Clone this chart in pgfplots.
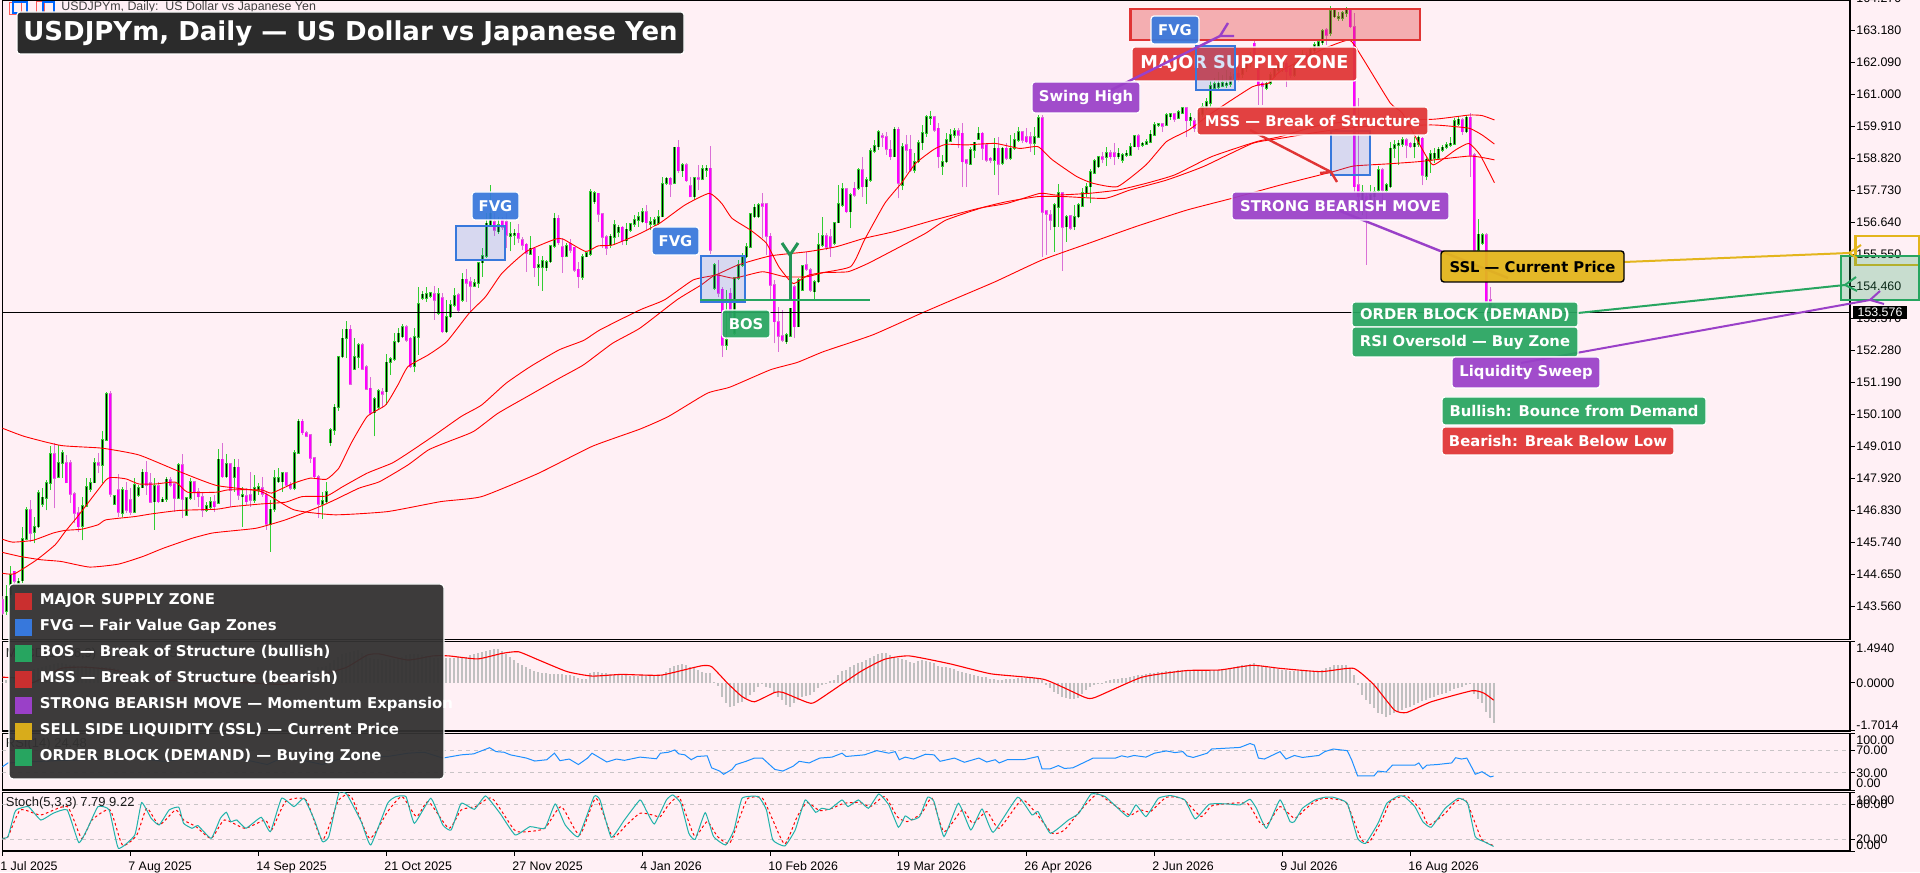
\documentclass[border=0pt]{standalone}
\usepackage{fontspec}
\usepackage{pgfplots}
\usepackage{pgfplotstable}
\pgfplotsset{compat=1.18}
\setmainfont{DejaVu Sans}
\newfontfamily\tickf{Liberation Sans}
\definecolor{bg}{HTML}{FFF0F5}
\definecolor{wickup}{HTML}{32CD32}
\definecolor{wickdn}{HTML}{DA70D6}
\definecolor{bodydn}{RGB}{255,0,255}
\definecolor{rlab}{HTML}{E03434}
\definecolor{blab}{HTML}{3778DC}
\definecolor{glab}{HTML}{27A560}
\definecolor{plab}{HTML}{9A40C8}
\definecolor{ylab}{HTML}{E3B51C}
\definecolor{dk}{HTML}{2B2B2B}
\definecolor{lgd}{HTML}{333232}
\definecolor{histg}{HTML}{C0C0C0}
\definecolor{lvl}{HTML}{C8C4C6}
\definecolor{stk}{HTML}{20B2AA}
\pgfplotstableread{
i lo hi wl wh
1 143.40 143.91 143.28 144.31
2 143.97 144.65 143.85 144.93
4 144.36 144.42 144.25 144.53
5 144.45 145.86 144.36 146.29
6 145.86 146.86 145.82 146.97
8 146.09 146.27 145.72 146.63
9 146.29 147.43 146.23 147.54
10 147.05 147.28 146.97 147.60
11 147.26 147.77 146.84 147.88
12 147.77 148.76 147.54 149.05
14 147.97 148.45 147.94 149.07
15 148.45 148.81 147.94 148.90
20 146.31 146.99 145.82 147.31
21 146.99 147.63 146.97 147.94
22 147.57 147.77 147.48 147.94
23 147.79 148.45 147.77 148.62
25 148.39 149.24 147.79 149.53
26 149.24 150.80 149.19 150.89
28 147.06 147.34 147.03 147.37
30 146.75 147.54 146.61 147.65
33 146.78 147.71 146.75 147.94
34 147.37 147.62 147.31 147.71
35 147.62 148.14 147.60 148.24
38 147.14 147.68 146.18 147.94
40 147.14 147.22 147.11 147.31
41 147.22 147.90 147.14 147.99
44 147.26 148.39 147.22 148.47
46 146.69 147.26 146.65 147.31
47 147.26 147.80 147.20 147.94
51 146.84 147.00 146.80 147.14
52 146.95 147.14 146.86 147.31
54 147.09 148.58 147.06 148.94
56 147.99 148.43 147.94 148.77
58 147.97 148.31 147.48 148.58
60 147.31 147.37 146.29 147.65
63 147.20 147.60 147.09 148.05
64 147.52 147.65 147.37 147.77
67 146.38 146.88 145.44 147.20
68 146.88 147.94 146.80 148.22
69 147.82 147.94 147.79 148.28
70 147.82 148.11 147.48 148.13
73 147.60 148.79 147.52 148.90
74 148.79 149.87 148.77 149.95
80 147.06 147.17 146.54 147.48
81 147.14 147.48 147.09 147.82
82 149.15 149.58 149.02 149.64
83 149.58 150.35 149.41 150.47
84 150.35 152.08 150.24 152.10
85 152.08 152.70 152.02 153.01
86 152.70 153.01 152.02 153.29
88 151.66 152.06 151.63 152.70
89 152.06 152.48 151.68 152.53
93 150.17 150.63 149.36 150.72
94 150.35 150.92 150.29 150.97
96 150.89 151.88 150.43 152.17
97 151.88 151.99 151.46 152.08
98 151.99 152.59 151.94 152.87
99 152.59 152.87 152.53 153.07
100 152.76 153.08 152.70 153.19
103 151.76 152.74 151.54 153.04
104 152.74 153.87 152.14 154.46
105 154.07 154.20 154.01 154.31
106 154.07 154.21 153.95 154.46
107 154.14 154.24 154.07 154.29
109 153.56 154.21 153.50 154.41
111 152.93 153.44 152.875 154.01
112 153.44 153.84 153.39 154.01
113 153.84 154.15 153.78 154.41
115 154.01 154.71 153.95 154.92
118 154.49 154.60 154.44 154.71
119 154.58 155.28 154.41 155.31
120 155.28 155.51 154.80 155.77
121 155.51 156.62 155.43 156.96
122 156.56 156.96 156.50 157.91
124 156.34 156.56 156.26 156.85
127 156.19 156.25 155.66 156.68
128 156.22 156.28 155.88 156.41
132 155.58 155.77 155.54 156.17
134 155.12 155.20 154.49 155.51
135 155.12 155.35 154.33 155.51
136 155.11 155.31 155.00 155.37
137 155.31 155.85 155.28 155.88
138 155.85 156.79 155.77 156.96
141 155.51 155.85 155.46 155.94
145 154.78 155.48 154.69 155.57
146 155.48 155.60 155.46 155.65
147 155.57 157.70 155.51 157.79
148 157.36 157.66 157.28 157.73
152 155.88 156.17 155.77 156.26
153 156.14 156.56 155.88 156.73
154 156.33 156.48 156.14 156.56
156 156.03 156.41 155.88 156.62
157 156.39 156.60 156.33 156.64
158 156.60 156.73 156.51 156.90
159 156.73 156.85 156.51 157.02
160 156.68 157.02 156.62 157.13
162 156.60 156.68 156.39 156.85
163 156.60 156.73 156.53 156.85
164 156.62 156.85 156.56 157.07
165 156.85 157.96 156.82 158.21
166 157.98 158.15 157.92 158.21
168 157.98 159.21 157.96 159.23
170 158.41 158.60 158.21 158.66
173 157.53 158.17 157.41 158.21
175 158.13 158.47 158.09 158.60
176 158.43 158.49 158.21 158.60
178 154.40 155.20 154.35 155.26
181 152.47 152.64 152.30 154.35
183 152.87 154.75 152.80 154.80
184 154.75 155.20 154.69 155.37
185 155.20 155.48 155.14 155.60
186 155.48 155.82 155.43 155.94
187 155.82 156.94 155.77 156.98
188 156.85 157.16 156.79 157.28
189 156.85 157.24 156.79 157.30
196 152.59 152.82 152.51 152.87
197 152.78 153.72 152.76 153.72
199 153.10 154.69 153.08 154.75
200 154.35 155.18 154.33 155.20
203 154.29 154.63 154.01 154.69
204 154.63 155.88 154.57 156.28
205 155.88 156.19 155.82 156.82
208 155.94 156.64 155.88 156.68
209 156.64 157.28 156.62 157.92
210 157.24 157.78 157.19 157.98
212 157.02 157.58 156.45 157.64
214 157.81 158.44 157.75 158.49
216 157.87 158.09 157.28 158.21
217 158.09 159.09 158.04 159.17
218 159.09 159.25 159.00 159.46
219 159.23 159.74 159.12 159.80
223 158.89 159.82 158.87 159.89
225 157.93 159.23 157.75 159.34
228 158.44 158.72 158.32 159.00
229 158.72 159.37 158.66 159.46
230 159.37 159.71 159.12 159.97
231 159.68 160.25 159.57 160.31
232 160.20 160.25 159.97 160.46
235 158.57 158.72 158.27 158.95
236 158.72 159.46 158.66 159.68
237 159.43 159.63 159.40 159.82
238 159.63 159.78 159.51 159.85
242 158.64 159.12 158.60 159.23
243 159.12 159.38 158.83 159.40
244 159.48 159.68 159.46 159.89
248 158.78 159.17 158.27 159.51
250 158.66 159.17 158.60 159.23
252 158.83 159.17 158.78 159.63
253 159.17 159.46 159.12 159.68
254 159.46 159.74 159.40 159.89
258 159.34 159.57 158.95 159.89
259 159.55 160.20 159.51 160.31
263 156.51 157.24 155.65 157.30
264 157.16 157.66 156.51 157.96
266 156.51 156.85 155.99 156.90
268 156.51 156.85 156.39 157.24
269 156.85 157.24 156.79 157.30
270 157.21 157.66 157.19 157.81
271 157.64 157.87 157.53 157.98
272 157.87 158.38 157.30 158.46
273 158.34 158.75 158.32 158.80
274 158.55 158.87 158.49 158.91
276 158.87 159.03 158.57 159.23
279 158.89 159.00 158.80 159.17
280 158.78 158.95 158.69 159.00
281 158.95 159.00 158.89 159.12
282 158.95 159.23 158.91 159.37
283 159.23 159.59 159.21 159.63
285 159.29 159.34 159.23 159.40
286 159.32 159.40 159.29 159.48
287 159.38 159.65 159.34 159.80
288 159.63 159.97 159.59 160.08
289 159.97 160.00 159.91 160.03
291 159.97 160.31 159.93 160.37
292 160.25 160.34 160.14 160.37
294 160.20 160.42 160.16 160.48
295 160.37 160.54 160.34 160.57
297 160.14 160.23 159.93 160.37
299 160.12 160.37 160.03 160.48
300 160.34 160.59 160.25 160.71
301 160.57 160.76 160.48 160.88
302 160.71 161.30 160.59 161.50
303 161.22 161.36 161.16 161.56
304 161.25 161.39 161.18 161.79
305 161.30 161.41 161.25 161.67
306 161.32 161.39 161.22 161.84
307 161.36 161.61 161.27 161.79
308 161.56 161.67 161.44 161.90
310 161.71 161.96 161.56 162.13
311 161.90 162.13 161.78 162.30
312 162.07 162.30 161.96 162.47
316 161.22 161.39 161.16 161.44
317 161.39 161.67 161.33 161.79
318 161.64 161.90 161.56 162.01
319 161.84 162.01 161.73 162.18
320 161.96 162.07 161.79 162.24
323 161.67 162.01 161.61 162.13
324 161.98 162.24 161.90 162.35
325 162.20 162.35 162.13 162.52
327 162.20 162.52 162.13 162.64
328 162.50 162.69 162.41 162.81
329 162.66 162.81 162.58 162.89
330 162.77 163.18 162.69 163.23
332 163.09 163.85 162.99 164.02
333 163.66 163.89 163.60 163.94
334 163.60 163.66 163.52 163.83
335 163.60 163.79 163.52 163.86
336 163.79 163.89 163.66 163.98
340 157.41 157.70 156.90 157.92
342 157.41 157.58 157.19 157.92
343 157.53 157.70 157.30 157.87
344 157.75 158.43 157.70 158.57
346 157.75 157.92 157.64 157.98
347 157.87 159.17 157.81 159.40
348 159.17 159.29 158.83 159.46
349 159.27 159.34 158.60 159.46
350 159.32 159.46 159.23 159.57
353 159.23 159.34 158.83 159.55
354 159.32 159.55 159.23 159.63
356 158.23 158.80 158.09 158.89
357 158.78 158.98 158.34 159.12
358 158.83 159.00 158.66 159.17
359 158.83 159.14 158.80 159.23
360 159.12 159.21 159.06 159.29
361 159.21 159.29 159.14 159.40
362 159.29 159.34 159.23 159.57
363 159.32 160.12 159.29 160.20
364 160.00 160.16 159.93 160.23
366 159.74 160.23 159.68 160.31
369 155.71 156.24 155.65 156.75
370 155.94 156.22 155.88 156.28
}\bull
\pgfplotstableread{
i lo hi wl wh
0 143.34 143.80 143.28 143.91
3 144.42 144.76 144.30 144.79
7 146.06 146.86 145.78 147.20
13 147.94 148.76 146.91 149.13
16 147.79 148.45 147.77 148.73
17 147.40 148.45 147.09 148.56
18 146.75 147.40 146.41 147.48
19 146.29 146.75 146.12 146.97
24 148.39 148.47 148.11 148.79
27 147.40 150.80 147.31 150.91
29 146.78 147.54 146.63 148.09
31 146.86 147.52 146.75 147.82
32 146.78 147.20 146.69 147.60
36 147.71 148.14 147.37 148.53
37 147.12 147.77 147.09 148.11
39 147.14 147.68 147.09 147.82
42 147.71 147.88 147.63 147.99
43 147.26 147.74 146.80 147.79
45 147.23 148.39 146.58 148.77
48 147.45 147.80 147.20 147.82
49 147.31 147.48 146.97 147.60
50 146.84 147.31 146.63 147.48
53 146.97 147.14 146.80 147.37
55 147.99 148.58 147.94 149.13
57 147.54 148.43 146.97 148.47
59 147.37 148.31 147.20 148.58
61 147.14 147.34 147.03 147.60
62 147.20 147.37 146.97 148.16
65 147.40 147.60 147.31 147.99
66 146.38 147.37 146.18 147.48
71 147.71 148.11 147.65 148.11
72 147.60 147.71 147.54 147.82
75 149.49 149.87 149.41 149.95
76 149.36 149.49 149.33 149.56
77 148.62 149.41 148.45 149.41
78 147.99 148.62 147.94 148.62
79 147.06 147.99 146.58 148.05
87 151.15 153.01 151.12 153.16
90 151.66 152.48 151.63 152.53
91 150.97 151.72 150.95 151.80
92 150.15 151.00 150.09 151.40
95 150.81 150.89 150.32 151.00
101 152.65 153.08 152.59 153.16
102 151.74 152.70 151.68 152.76
108 154.01 154.21 153.33 154.49
110 152.93 154.09 152.875 154.24
114 153.67 154.18 153.61 154.24
116 154.58 154.71 153.95 155.05
117 154.49 154.63 153.56 154.78
123 156.39 156.68 156.19 156.96
125 156.50 156.73 156.40 156.85
126 156.22 156.68 155.77 156.96
129 156.11 156.28 155.96 156.60
130 155.88 156.05 155.71 156.14
131 155.60 155.90 154.97 155.94
133 155.11 155.77 154.80 155.77
139 155.96 156.79 155.88 156.90
140 155.48 155.82 154.94 156.11
142 155.71 155.94 155.60 156.07
143 155.03 155.80 154.97 155.82
144 154.80 155.05 154.40 155.31
149 156.94 157.64 156.68 157.66
150 156.14 156.94 155.77 156.94
151 155.77 156.16 155.54 156.22
155 156.03 156.48 155.88 156.53
161 156.64 157.02 156.39 157.24
167 157.96 158.15 157.53 158.21
169 158.41 159.21 158.32 159.46
171 158.07 158.60 158.04 158.66
172 157.53 157.89 157.50 158.18
174 158.13 158.17 157.75 158.60
177 155.71 158.49 155.57 159.25
179 154.23 154.86 154.10 155.37
180 152.47 154.37 152.08 154.46
182 153.33 154.23 153.20 154.40
190 157.21 157.28 156.11 157.64
191 156.17 157.28 155.54 157.30
192 154.52 156.17 154.01 156.28
193 153.27 154.52 152.53 154.69
194 152.78 153.27 152.25 153.78
195 152.64 152.78 152.59 153.67
198 153.10 154.46 152.70 154.52
201 155.05 155.20 155.00 155.65
202 154.35 155.03 154.29 155.09
206 155.82 156.19 155.71 156.28
207 155.82 156.16 155.48 156.41
211 157.02 157.78 156.96 157.81
213 157.58 157.81 157.53 158.04
215 157.87 158.43 157.53 158.89
220 159.55 159.59 159.23 159.68
221 159.14 159.57 158.95 159.74
222 158.89 159.14 158.78 159.46
224 157.98 159.82 157.47 159.91
226 159.12 159.29 158.32 159.63
227 158.43 159.14 158.38 159.63
233 159.80 160.25 159.74 160.25
234 158.89 159.85 158.49 160.03
239 159.63 159.78 159.17 159.85
240 158.72 159.68 157.87 160.03
241 158.66 158.78 157.87 158.78
245 159.17 159.68 158.78 159.74
246 158.78 159.29 158.72 159.34
247 158.78 158.83 158.66 158.89
249 158.64 159.17 157.58 159.57
251 158.83 159.17 158.78 159.34
255 159.46 159.74 159.34 159.78
256 159.40 159.57 159.34 159.85
257 159.34 159.57 159.06 159.74
260 156.99 160.20 155.48 160.31
261 156.94 157.05 155.54 157.07
262 156.73 156.90 156.39 157.07
265 156.48 157.66 155.00 157.70
267 156.45 156.87 156.39 156.90
275 158.80 158.89 158.66 159.06
277 158.89 159.03 158.80 159.12
278 158.89 159.03 158.60 159.34
284 159.23 159.59 159.12 159.66
290 159.93 160.00 159.74 160.05
293 160.16 160.34 160.08 160.37
296 160.12 160.54 159.57 160.59
298 159.85 160.12 159.74 160.20
309 161.59 161.73 161.44 161.96
313 162.18 162.75 162.07 162.86
314 161.33 162.18 160.65 162.24
315 161.30 161.39 160.65 161.50
321 161.79 162.07 161.27 162.18
322 161.67 161.90 161.56 162.01
326 162.18 162.35 162.07 162.47
331 163.03 163.20 162.69 163.26
337 163.32 163.89 163.26 163.91
338 157.87 163.32 157.64 163.77
339 157.53 157.92 156.96 160.88
341 157.24 157.53 155.20 157.70
345 157.75 158.43 157.24 158.49
351 159.29 159.46 158.83 159.51
352 159.23 159.34 159.17 159.40
355 158.27 159.51 157.92 159.57
365 159.74 160.14 159.63 160.20
367 158.95 160.23 158.21 160.39
368 155.71 158.95 155.65 159.00
371 153.95 156.22 153.89 156.28
372 153.76 154.01 153.67 154.44
373 153.58 153.78 153.50 153.84
}\bear
\pgfplotstableread{
h
.05
.11
.17
.23
.31
.37
.42
.47
.51
.53
.57
.62
.65
.68
.71
.71
.69
.66
.64
.62
.62
.60
.59
.59
.58
.58
.57
.57
.54
.49
.45
.40
.35
.30
.27
.23
.17
.13
.11
.11
.11
.11
.10
.10
.10
.09
.08
.08
.07
.06
.05
.05
.05
.05
.05
.05
.05
.05
.05
.05
.05
.05
.05
.05
.05
.05
.05
.04
.04
.04
.04
.04
.05
.05
.06
.11
.17
.29
.47
.57
.57
.62
.71
.83
.95
1.05
1.07
1.13
1.17
1.19
1.10
1.00
.90
.88
.86
.83
.83
.86
.88
.90
.95
1.00
1.04
1.05
1.05
1.03
.98
.93
.89
.89
.89
.89
.90
.92
.93
.93
.95
1.00
1.05
1.07
1.12
1.17
1.19
1.22
1.22
1.17
1.05
.95
.83
.74
.65
.57
.49
.45
.40
.37
.35
.33
.33
.33
.31
.30
.29
.25
.19
.13
.13
.35
.41
.41
.37
.35
.33
.30
.29
.29
.28
.27
.27
.25
.29
.29
.29
.29
.29
.29
.41
.53
.61
.66
.68
.65
.59
.53
.47
.41
.35
.35
.04
-.11
-.49
-.74
-.88
-.83
-.74
-.68
-.55
-.43
-.31
-.13
-.01
-.13
-.19
-.31
-.49
-.62
-.80
-.86
-.74
-.62
-.52
-.47
-.43
-.31
-.19
-.07
.01
.08
.11
.29
.45
.47
.57
.65
.74
.77
.83
.89
.98
1.05
1.07
1.07
1.01
.95
.89
.87
.83
.77
.74
.81
.83
.81
.77
.71
.62
.59
.57
.53
.49
.45
.41
.35
.33
.29
.25
.23
.21
.16
.13
.11
.10
.13
.14
.16
.17
.17
.17
.17
.17
.17
.11
-.07
-.19
-.31
-.40
-.49
-.55
-.59
-.59
-.55
-.40
-.25
-.13
-.07
-.01
.01
.07
.11
.13
.16
.17
.19
.23
.25
.28
.30
.33
.35
.37
.40
.41
.42
.43
.45
.46
.47
.47
.47
.47
.47
.47
.47
.47
.47
.47
.49
.52
.55
.59
.62
.64
.66
.69
.71
.66
.62
.57
.53
.53
.52
.47
.46
.45
.45
.43
.43
.42
.42
.41
.41
.47
.53
.59
.64
.65
.65
.65
.53
.29
-.07
-.43
-.62
-.76
-.92
-1.07
-1.12
-1.22
-1.16
-1.10
-1.04
-.98
-.92
-.86
-.80
-.74
-.65
-.62
-.55
-.49
-.45
-.40
-.35
-.28
-.23
-.19
-.13
-.07
-.04
-.40
-.59
-.74
-1.04
-1.28
-1.44
}\machist
\pgfplotsset{panel/.style={
  scale only axis, width=923.8pt, xmin=0, xmax=461.9,
  axis background/.style={fill=bg},
  axis line style={black,line width=.55pt},
  tick style={black,line width=.5pt},
  tick align=outside, major tick length=2.4pt,
  xtick pos=lower, ytick pos=upper, yticklabel pos=upper,
  ticklabel style={font=\tickf\fontsize{6.2}{7}\selectfont, inner sep=0pt},
  yticklabel style={anchor=west, xshift=.6pt},
  /pgf/number format/.cd, fixed, fixed zerofill, assume math mode=true, 1000 sep={},
  /pgfplots/.cd,
  scaled y ticks=false, clip=true},
  ma/.style={red,line width=.45pt,forget plot,line join=round,smooth,tension=.3},
  cwk/.style={draw=none,no markers,forget plot},
}
% overlay label: [textcolor]{x1}{y1}{x2}{y2}{fill}{font}{text}
\newcommand\lab[7][white]{%
  \draw[white,line width=.6pt,rounded corners=1.5pt,fill=#6,fill opacity=.93,draw opacity=1] (#2,#3) rectangle (#4,#5);
  \node[text=#1,font=\bfseries\fontsize{7.4}{9}\selectfont,inner sep=0pt] at ({(#2+#4)/2},{(#3+#5)/2}) {#7};}
\newcommand\zbox[6]{\draw[#5,line width=1.2pt,fill=#5,fill opacity=#6,draw opacity=1] (#1,#2) rectangle (#3,#4);}
\newcommand\lgitem[3]{%
  \fill[#1] (15,#2-8.5) rectangle (32,#2+8.5);
  \node[anchor=west,text=white,font=\bfseries\fontsize{7.45}{8}\selectfont,inner sep=0pt] at (39.5,#2-1.5) {#3};}
\begin{document}
\begin{tikzpicture}[x=1pt,y=1pt]
\useasboundingbox (0,0) rectangle (960,436);
\fill[bg] (0,0) rectangle (960,436);
% --- MAIN
\begin{axis}[panel, at={(1.2pt,116.25pt)}, anchor=south west, height=319.75pt,
  ymin=142.443, ymax=164.226, xtick=\empty,
  ytick={163.18,162.09,161.00,159.91,158.82,157.73,156.64,155.55,154.46,153.37,152.28,151.19,150.10,149.01,147.92,146.83,145.74,144.65,143.56},
  /pgf/number format/precision=3]
\addplot[cwk,error bars/.cd,y dir=plus,y explicit,error mark=none,error bar style={draw=wickup,line width=.5pt}]
  table[x=i,y=wl,y error expr=\thisrow{wh}-\thisrow{wl}]{\bull};
\addplot[cwk,error bars/.cd,y dir=plus,y explicit,error mark=none,error bar style={draw=wickdn,line width=.5pt}]
  table[x=i,y=wl,y error expr=\thisrow{wh}-\thisrow{wl}]{\bear};
\addplot[cwk,error bars/.cd,y dir=plus,y explicit,error mark=none,error bar style={draw=wickup,line width=1.5pt}]
  table[x=i,y expr=\thisrow{lo}-0.025,y error expr=\thisrow{hi}-\thisrow{lo}+0.05]{\bull};
\addplot[cwk,error bars/.cd,y dir=plus,y explicit,error mark=none,error bar style={draw=black,line width=.8pt}]
  table[x=i,y=lo,y error expr=\thisrow{hi}-\thisrow{lo}]{\bull};
\addplot[cwk,error bars/.cd,y dir=plus,y explicit,error mark=none,error bar style={draw=wickdn,line width=1.5pt}]
  table[x=i,y expr=\thisrow{lo}-0.025,y error expr=\thisrow{hi}-\thisrow{lo}+0.05]{\bear};
\addplot[cwk,error bars/.cd,y dir=plus,y explicit,error mark=none,error bar style={draw=bodydn,line width=1pt}]
  table[x=i,y=lo,y error expr=\thisrow{hi}-\thisrow{lo}]{\bear};
% moving averages
\addplot[ma] coordinates {(0,144.70)(3,144.68)(8.6,145.16)(13.2,145.67)(15.7,146.12)(18.8,146.63)(25.9,147.88)(28,147.96)(31,147.91)(34.1,147.74)(38.2,147.74)(43.3,147.80)(46.3,147.46)(53.5,147.46)(56.5,147.54)(64.7,147.54)(67.3,147.43)(72.9,147.77)(77,147.94)(81,147.90)(84.1,148.28)(87.2,149.13)(91.2,150.04)(95.8,150.43)(98.9,151.12)(101.4,151.74)(106.5,152.14)(111.1,152.59)(116.7,153.56)(120.8,154.12)(124.9,154.92)(131,155.66)(138.2,156.08)(140.2,156.08)(145.8,155.66)(148.9,155.85)(152.5,155.88)(158.6,156.22)(164.3,156.62)(170.6,157.24)(176.7,157.64)(179.8,157.30)(182.4,156.79)(187,156.39)(191,155.94)(194.1,155.14)(197.7,154.57)(201.7,154.86)(212,155.14)(215.5,156.05)(220.6,157.30)(224.7,157.98)(228.3,158.66)(232.9,159.14)(235.9,159.31)(241,159.29)(248.2,159.34)(254.3,159.17)(258.9,159.23)(262.5,158.78)(268.6,158.21)(272.7,157.98)(278.8,157.87)(285.9,158.61)(291,159.40)(296.6,159.80)(302.3,160.37)(312.5,161.27)(316.5,161.39)(319.4,161.79)(329.6,162.52)(336.7,162.86)(339.8,162.30)(347,160.71)(350,160.37)(354.6,159.23)(357.7,158.61)(363.3,159.12)(366.6,159.34)(369.4,158.95)(373,158.0)};
\addplot[ma] coordinates {(0,145.86)(2.5,145.76)(7.6,145.82)(12.7,146.07)(15.7,146.16)(19.8,146.20)(23.9,146.35)(25.9,146.52)(33.1,146.63)(37.2,146.72)(44.3,146.84)(53.5,146.88)(57.6,146.97)(64.7,147.06)(70.8,147.12)(74.9,147.31)(81,147.33)(85.1,147.65)(91.2,148.11)(97.4,148.45)(101.4,148.79)(107.6,149.36)(114.7,150.04)(119.8,150.43)(125.9,151.17)(132,151.74)(139.2,152.31)(145.3,152.63)(149.4,152.99)(159.4,153.67)(165.5,154.01)(172.7,154.69)(178.3,154.86)(183.9,155.20)(192,155.51)(201.2,155.65)(208.4,155.82)(215.5,156.11)(222.7,156.33)(232.9,156.73)(244.1,157.13)(251.2,157.30)(259.4,157.64)(263.5,157.58)(271.6,157.64)(278.8,157.75)(285.9,157.98)(293.1,158.27)(302.3,158.89)(313.5,159.40)(319.4,159.57)(329.6,159.97)(339.8,160.12)(357.2,160.16)(363.3,160.25)(366.9,160.31)(369.9,160.29)(373,160.14)};
\addplot[ma] coordinates {(0,145.41)(4.5,145.27)(9.6,145.16)(14.7,145.10)(21.8,144.91)(29,145.01)(35.1,145.27)(40.2,145.55)(47.4,145.89)(52.5,146.07)(58.6,146.16)(63.7,146.24)(70.8,146.52)(79,146.95)(83.1,147.20)(89.2,147.60)(94.3,147.82)(101.4,148.39)(106.5,148.90)(111.6,149.19)(117.8,149.53)(123.9,150.15)(132,150.78)(139.2,151.34)(145.3,151.80)(152.5,152.53)(159.4,153.05)(168.6,154.01)(174.7,154.52)(178.3,154.86)(182.9,154.75)(190,154.97)(195.6,154.80)(201.2,154.80)(205.3,154.94)(211.4,154.97)(216.5,155.26)(223.7,155.77)(230.8,156.28)(235.9,156.73)(245.1,157.16)(251.2,157.36)(258.9,157.53)(265.5,157.53)(275.7,157.47)(281.8,157.75)(291,158.09)(300.2,158.55)(312.5,159.34)(319.4,159.51)(329.6,159.74)(339.8,159.91)(357.2,159.97)(363.3,159.91)(366.9,159.85)(369.9,159.63)(373,159.32)};
\addplot[ma] coordinates {(0,149.64)(5.5,149.36)(14.7,149.05)(24.9,148.96)(34.1,148.73)(44.3,148.16)(53.5,147.69)(64.7,147.48)(72.9,146.86)(83.1,146.69)(96.3,146.80)(109.6,147.14)(119.8,147.31)(134.1,148.11)(147.4,149.02)(159.4,149.61)(166.5,150.04)(176.2,150.83)(181.9,151.04)(192,151.63)(198.7,151.88)(205.3,152.25)(217.6,152.82)(229.8,153.56)(237.5,154.01)(248.2,154.63)(259.9,155.37)(271.6,155.94)(283.4,156.51)(296.1,157.07)(307.4,157.47)(319.4,157.92)(332.7,158.38)(337.8,158.57)(345.9,158.64)(354.1,158.72)(366.9,158.91)(373,158.78)};
\addplot[black,line width=.6pt,forget plot] coordinates {(0,153.576)(461.9,153.576)};
\end{axis}
% --- MACD
\begin{axis}[panel, at={(1.2pt,70.5pt)}, anchor=south west, height=44.65pt,
  ymin=-1.737, ymax=1.494, xtick=\empty, ytick={-1.7014,0,1.494}, yticklabels={,0.0000,}]
\addplot[ycomb,color=histg,line width=1pt,forget plot,no markers] table[x expr=\coordindex,y=h]{\machist};
\addplot[ma,line width=.55pt] coordinates {(0,.21)(4.5,.17)(7.6,.01)(14.7,.53)(20.8,.57)(28,.47)(35.1,.17)(40.2,.11)(50.4,.05)(60.6,.01)(69.8,-.05)(75.9,.11)(81,.35)(86.1,.57)(91.2,1.01)(94.3,1.05)(101.4,.83)(107.6,.98)(111.6,.98)(118.8,.87)(124.9,1.07)(129,1.13)(134.1,.83)(141.2,.41)(147.4,.25)(154.5,.31)(159.4,.29)(165,.29)(174.7,.62)(177.3,.59)(181.3,-.01)(184.9,-.49)(188,-.68)(193.1,-.34)(195.1,-.34)(201.2,-.70)(203.3,-.68)(214.5,.41)(220.6,.86)(226.7,.98)(237,.69)(247.2,.33)(260.4,.13)(270.6,-.52)(273.2,-.52)(284.9,.21)(296.1,.45)(304.3,.47)(312.5,.64)(319.4,.53)(329.6,.41)(337.8,.53)(342.9,-.07)(348,-.98)(351,-1.07)(357.2,-.68)(367.4,-.28)(370.4,-.37)(372.8,-.62)};
\end{axis}
% --- RSI
\begin{axis}[panel, at={(1.2pt,41pt)}, anchor=south west, height=28.35pt,
  ymin=0, ymax=100, xtick=\empty, ytick={0,30,70,100}, yticklabels={,30.00,70.00,}]
\addplot[lvl,line width=.5pt,dash pattern=on 2pt off 2pt,forget plot] coordinates {(0,70)(461.9,70)};
\addplot[lvl,line width=.5pt,dash pattern=on 2pt off 2pt,forget plot] coordinates {(0,30)(461.9,30)};
\addplot[color={rgb,255:red,30;green,144;blue,255},line width=.5pt,forget plot] coordinates {(0,40.9)(1.4,47.7)(9.6,50.6)(19.8,53.4)(30,59.1)(40.2,50.6)(50.4,59.1)(60.6,53.4)(66.2,44.9)(70.8,59.1)(80,44.9)(86.1,59.1)(96.3,59.1)(101.4,64.9)(105.5,66.6)(110.1,56.3)(114.7,62)(117.8,63.7)(121.8,74.6)(123.4,67.7)(125.4,66.6)(127,62)(131,56.3)(133.1,51.1)(136.1,53.4)(138,64.9)(139.4,51.7)(141.7,54.6)(144,44.9)(146.3,56.3)(147.4,64.9)(151.1,49.4)(153.5,54.6)(155.5,52.3)(159.4,58)(163.5,55.1)(164.5,64.9)(166.5,66.6)(168.1,70.6)(169.1,63.7)(170.6,62)(172.2,53.4)(173.7,59.1)(176.2,60.3)(177.3,39.1)(179.3,33.4)(180.3,27.7)(182.4,36.3)(183.4,44.9)(185.9,50.6)(188,56.3)(190,56.3)(193.1,36.3)(195.1,33.4)(197.7,42)(199.2,50.6)(201.7,47.7)(204.3,56.3)(207.4,58)(209.9,64.9)(210.9,59.1)(215.5,62)(218.6,69.4)(221.6,64.9)(223.2,67.7)(224.2,53.4)(225.7,58)(227.8,54.6)(230.8,63.1)(232.9,62)(234.4,50.6)(238,56.3)(240.5,48.9)(244.1,56.3)(246.1,49.4)(248.2,53.4)(249.2,47.7)(251.2,53.4)(255.3,53.4)(258.9,59.1)(259.9,37.4)(262,37.4)(264,43.1)(265.5,38)(267.6,39.1)(272.7,56.3)(278.3,56.3)(279.8,60.3)(281.3,58)(282.9,60.9)(285.9,58)(288,64.9)(291,68.9)(293.1,66)(295.1,67.7)(296.1,60.3)(297.7,57.4)(301.2,64.9)(302.3,72.3)(309.4,75.1)(311.9,82)(313,79.1)(314,56.3)(315.5,54.6)(319.4,67.7)(320.9,54.6)(323,60.9)(325,57.4)(329.1,60.9)(330.6,67.7)(332.7,72.3)(336.2,69.4)(337.3,53.4)(338.8,24.9)(342.9,24.9)(343.9,33.4)(345.9,31.7)(347.5,43.7)(353.1,43.7)(354.1,47.7)(355.1,37.4)(356.1,43.7)(358.7,44.9)(362.3,47.7)(363.3,56.9)(364.8,54.6)(366.1,56.3)(367.4,39.1)(368.2,27.7)(369.9,32.3)(372,23.1)(372.8,24.48)};
\end{axis}
% --- STOCH
\begin{axis}[panel, at={(1.2pt,10.5pt)}, anchor=south west, height=29.35pt,
  ymin=0, ymax=100.5, ytick={0,20,80,100}, yticklabels={,20.00,80.00,},
  xtick={0,32,64,96,128,160,192,224,256,288,320,352},
  xticklabels={1 Jul 2025,7 Aug 2025,14 Sep 2025,21 Oct 2025,27 Nov 2025,4 Jan 2026,10 Feb 2026,19 Mar 2026,26 Apr 2026,2 Jun 2026,9 Jul 2026,16 Aug 2026},
  xticklabel style={anchor=north west,xshift=-1.2pt,yshift=-2.6pt}]
\addplot[lvl,line width=.5pt,dash pattern=on 2pt off 2pt,forget plot] coordinates {(0,80)(461.9,80)};
\addplot[lvl,line width=.5pt,dash pattern=on 2pt off 2pt,forget plot] coordinates {(0,20)(461.9,20)};
\addplot[red,line width=.5pt,dash pattern=on 1.3pt off 1.3pt,forget plot,smooth,tension=.35] coordinates {(0,21.7)(1.4,24.6)(4.5,70.3)(9.6,61.7)(16.2,76)(19.8,21.7)(22.4,53.1)(26.9,70.3)(30,10.3)(33.6,27.4)(36.1,73.1)(39.2,44.6)(43.3,70.3)(45.3,53.1)(48.4,41.7)(52.2,21.7)(55.5,53.1)(60.6,38.9)(65.7,53.1)(67.3,36)(70.8,84.6)(75.9,87.4)(80,18.9)(84.1,87.4)(87.2,93.1)(91.8,21.7)(96.3,67.4)(99.9,93.1)(103.5,58.9)(106.5,84.6)(111.6,38.9)(114.7,70.3)(118.3,76)(122.4,90.3)(128,36)(131,33.1)(135.6,38.9)(139.7,76)(144.3,27.4)(148.4,90.3)(152.5,24.6)(156,44.6)(159.4,64.6)(162.5,61.7)(164.5,58.9)(166.5,78.9)(169.1,93.1)(171.1,58.9)(173.2,24.6)(176.2,50.3)(178.8,24.6)(181.8,13.1)(184.4,58.9)(186.4,90.3)(190,90.3)(192.6,53.1)(195.6,12)(198.7,58.9)(201.2,82.9)(204.3,69.1)(207.4,73.1)(210.4,81.7)(214.5,82.9)(217,76)(220.6,93.1)(223.7,58.9)(226.2,50.3)(229.8,64.6)(232.4,90.3)(235.4,33.1)(240,70.3)(242.6,47.4)(246.1,67.4)(249.2,38.9)(254.8,87.4)(258.4,64.6)(262.5,30.3)(265.5,36)(269.6,70.3)(273.7,97.7)(276.7,84.6)(281.8,61.7)(284.4,70.3)(287,67.4)(291,92)(295.1,89.1)(299.7,58.9)(302.3,77.1)(307.4,81.7)(311.4,80.6)(314.5,47.4)(316.5,47.4)(319.4,76)(323,56)(325.5,70.3)(328.1,84.6)(330.6,90.3)(335.7,84.6)(337.8,53.1)(339.8,18.9)(341.8,16)(344.9,53.1)(347,84.6)(351,94.3)(354.6,70.3)(356.6,44.6)(360.7,64.6)(363.3,84.6)(365.8,87.4)(368.2,47.4)(369.9,18.9)(372.8,9.22)};
\addplot[stk,line width=.5pt,forget plot,smooth,tension=.25] coordinates {(0,21.7)(1.4,24.6)(3,64.6)(3.7,71.4)(6.5,76)(9.6,53)(12.7,64.6)(16.2,70.3)(19.1,14.3)(21.3,38.9)(23.9,76)(26.7,70.3)(29,4.6)(33.1,27.4)(34.8,82.9)(37.2,56)(39.2,44.6)(41.7,70.3)(44.1,74.9)(45.3,47.4)(47.4,38.9)(48.9,43.4)(52.2,21.7)(54.5,56)(56,66.3)(57.1,50.3)(58.6,53.1)(60.9,38.9)(64.7,57.7)(67,33.1)(69.8,90.3)(72.9,76)(75.4,90.3)(78,53.1)(80,16)(81.6,24.6)(84.1,98.9)(86.1,97.1)(89.7,50.3)(92.1,10.3)(96.3,81.7)(98.4,93.1)(100.9,93.1)(103,47.4)(107.1,90.3)(110.1,44.6)(112.2,36)(114.7,81.7)(118,71.4)(120.8,94.3)(124.4,64.6)(128.2,27.4)(131.9,41.7)(135.6,38.9)(138.2,80.6)(140.7,44.6)(144,24.6)(147.9,93.1)(149.4,87.4)(152.2,23.4)(155.5,53.1)(159.4,87.4)(160.9,70.3)(163,46.3)(166,87.4)(167.6,96)(169.6,81.7)(171.6,30.3)(173.2,20)(175.7,65.7)(177.8,24.6)(180.8,10.3)(182.9,36)(184.9,90.3)(189,93.1)(191,70.3)(192.6,18.9)(195.6,8.6)(198.2,36)(200.7,87.4)(203.3,66.3)(204.8,73.1)(206.8,71.4)(209.9,87.4)(211.4,76)(214,87.4)(216.5,73.1)(219.1,97.7)(221.6,78.9)(224,40.6)(225.7,60)(227.3,53.1)(229.3,58.9)(231.3,92)(232.9,84.6)(235.4,24.6)(239,81.7)(242.1,36)(244.9,72)(247.7,32)(253.8,92)(257.4,61.7)(258.9,67.4)(262,30.3)(266.5,53.1)(269.1,64.6)(272.2,97.7)(275.7,93.1)(281.3,58.9)(283.4,78.9)(285.9,58.9)(289,90.3)(292.1,94.9)(295.6,87.4)(298.2,54.9)(301.7,80)(306.3,80.6)(309.4,78.9)(311.9,88.6)(313.5,73.1)(316,38.9)(319.4,87.4)(321.9,50.3)(323,50.3)(325,73.1)(328.1,87.4)(330.6,92)(332.7,92)(336.2,81.7)(338.8,21.7)(340.8,13.1)(343.9,47.4)(346.1,81.7)(349,94.3)(350.5,93.1)(353.1,76)(355.1,50.3)(357.2,40.6)(360.7,73.1)(364,90.3)(366.3,81.7)(368.2,24.6)(370.4,16)(372.8,7.79)};
\end{axis}
% --- OVERLAY in reference pixels
\begin{scope}[x=.5pt,y=-.5pt,yshift=436pt]
\tikzset{mt/.style={font=\tickf\fontsize{6.2}{7}\selectfont,inner sep=0pt,text=black}}
% window header
\node[mt,anchor=west,text=black!75] at (61,7) {USDJPYm, Daily:\ \ US Dollar vs Japanese Yen};
\draw[red!65,line width=.5pt] (9,3) rectangle (21,15);
\draw[blue!60!cyan,line width=.6pt] (13,2) rectangle (27,13);
\draw[red!65,line width=.5pt] (36,2) rectangle (44,13);
\draw[blue!60!cyan,line width=.6pt] (43,2) rectangle (54,13);
\node[mt,anchor=west] at (1856,-1.3) {164.270};
\node[mt,anchor=west] at (1856,648.3) {1.4940};
\node[mt,anchor=west] at (1856,725) {-1.7014};
\node[mt,anchor=west] at (1856,740.7) {100.00};
\node[mt,anchor=west] at (1856,783.3) {0.00};
\node[mt,anchor=west] at (1856,800) {100.00};
\node[mt,anchor=west] at (1856,845) {0.00};
\node[mt,anchor=west,text=black!90,font=\tickf\fontsize{6.5}{7}\selectfont] at (5.5,654) {MACD(12,26,9) -1.2168 -0.6580};
\node[mt,anchor=west,text=black!90,font=\tickf\fontsize{6.5}{7}\selectfont] at (5.5,744) {RSI(14) 24.48};
\node[mt,anchor=west,text=black!90,font=\tickf\fontsize{6.5}{7}\selectfont] at (5.5,803) {Stoch(5,3,3) 7.79 9.22};
% price tag
\fill[black] (1853,306) rectangle (1906.5,318.7);
\node[mt,text=white] at (1880,312.5) {153.576};
% title
\draw[white,line width=.6pt,rounded corners=1.5pt,fill=dk] (17,12) rectangle (684,54);
\node[text=white,font=\bfseries\fontsize{13}{15}\selectfont,inner sep=0pt] at (350.5,33) {USDJPYm, Daily --- US Dollar vs Japanese Yen};
% FVG 1
\zbox{456}{226}{505}{260}{blab}{.2}
\lab{472}{192}{519}{220}{blab}{FVG}
% FVG 2 and BOS
\zbox{701}{256}{745}{302}{blab}{.2}
\lab{652}{227}{699}{255}{blab}{FVG}
\draw[glab,line width=1pt] (700,300.5) -- (870,300.5);
\draw[glab!90!black,line width=1.5pt] (790,300) -- (790,255);
\draw[glab!90!black,line width=1.5pt] (782,243) -- (790,255) -- (798,243);
\lab{722}{310}{770}{338}{glab}{BOS}
% supply
\zbox{1130.6}{9}{1420}{40}{rlab}{.35}
\lab{1151}{16}{1199}{44}{blab}{FVG}
\draw[white,line width=.6pt,rounded corners=1.5pt,fill=rlab,fill opacity=.93,draw opacity=1] (1132,47) rectangle (1357,81);
\node[text=white,font=\bfseries\fontsize{8.85}{10}\selectfont,inner sep=0pt] at (1244.5,64) {MAJOR SUPPLY ZONE};
\zbox{1196}{46}{1235}{90}{blab}{.2}
\draw[plab,line width=1.2pt] (1101,95) -- (1220,36);
\draw[plab,line width=1.2pt] (1228,23) -- (1220,36) -- (1234,36);
\lab{1032}{82}{1140}{113}{plab}{Swing High}
% MSS
\zbox{1331}{131}{1370}{175}{blab}{.2}
\draw[rlab,line width=1.2pt] (1250,130) -- (1331,172);
\draw[rlab,line width=1.2pt] (1337,182) -- (1331,172) -- (1320,173);
\lab{1197}{107}{1428}{135}{rlab}{MSS --- Break of Structure}
% strong move
\draw[plab,line width=1.2pt] (1340,211) -- (1508,278);
\lab{1232}{192}{1449}{220}{plab}{STRONG BEARISH MOVE}
% right zones
\draw[ylab,line width=1.4pt] (1855.5,236) rectangle (1919,265);
\zbox{1841}{256}{1919}{300}{glab}{.25}
\draw[ylab,line width=1pt] (1624,262) -- (1849,253);
\draw[ylab,line width=1pt] (1861,245) -- (1849,253) -- (1857,258);
\draw[glab,line width=1pt] (1578,313) -- (1845,285);
\draw[glab,line width=1pt] (1856,277) -- (1845,285) -- (1857,291);
\draw[plab,line width=1pt] (1521,363) -- (1870,300);
\draw[plab,line width=1pt] (1880,291) -- (1870,300) -- (1884,304);
\draw[black,line width=.7pt,rounded corners=1.5pt,fill=ylab,fill opacity=.95,draw opacity=1] (1441,251) rectangle (1624,282);
\node[text=black,font=\bfseries\fontsize{7.4}{9}\selectfont,inner sep=0pt] at (1532.5,266.5) {SSL --- Current Price};
\lab{1352}{302}{1578}{327}{glab}{ORDER BLOCK (DEMAND)}
\lab{1352}{327}{1578}{357}{glab}{RSI Oversold --- Buy Zone}
\lab{1452}{357}{1600}{388}{plab}{Liquidity Sweep}
\lab{1442}{397}{1706}{425}{glab}{Bullish: Bounce from Demand}
\lab{1442}{427}{1674}{455}{rlab}{Bearish: Break Below Low}
% legend
\draw[white,line width=.6pt,rounded corners=2pt,fill=lgd,fill opacity=.95,draw opacity=1] (9,584) rectangle (444,779);
\lgitem{rlab!90!black}{601.5}{MAJOR SUPPLY ZONE}
\lgitem{blab}{627.5}{FVG --- Fair Value Gap Zones}
\lgitem{glab}{653.5}{BOS --- Break of Structure (bullish)}
\lgitem{rlab!90!black}{679.5}{MSS --- Break of Structure (bearish)}
\lgitem{plab}{705.5}{STRONG BEARISH MOVE --- Momentum Expansion}
\lgitem{ylab!95!black}{731.5}{SELL SIDE LIQUIDITY (SSL) --- Current Price}
\lgitem{glab}{757.5}{ORDER BLOCK (DEMAND) --- Buying Zone}
\end{scope}
\end{tikzpicture}
\end{document}
